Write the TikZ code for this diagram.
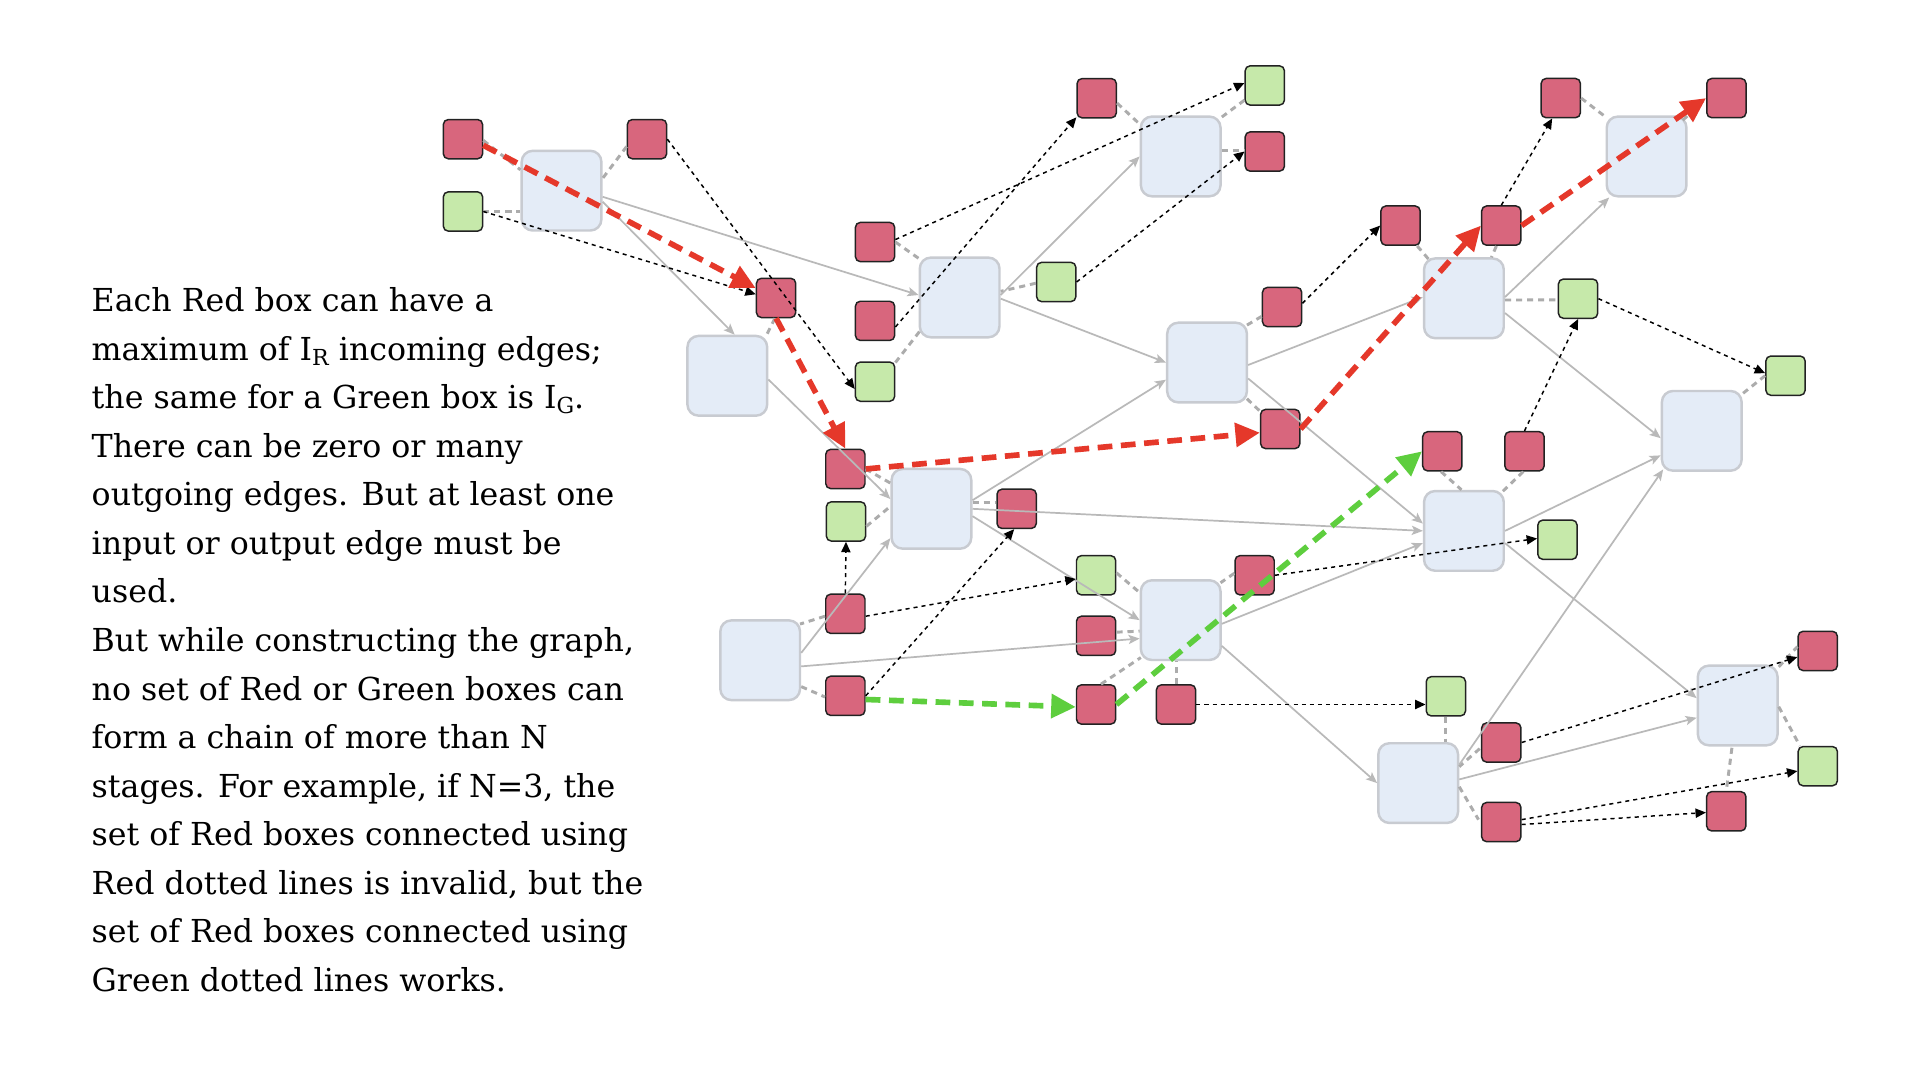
\documentclass[tikz,border=0pt]{standalone}
\usepackage{fontspec}
\setmainfont{DejaVu Serif}
\usetikzlibrary{arrows.meta,calc}
\definecolor{redfill}{RGB}{216,102,125}
\definecolor{greenfill}{RGB}{198,233,170}
\definecolor{bigfill}{RGB}{228,236,247}
\definecolor{bigborder}{RGB}{200,203,209}
\definecolor{boxborder}{RGB}{34,34,34}
\definecolor{arrowgray}{RGB}{185,185,185}
\definecolor{dashgray}{RGB}{172,172,172}
\definecolor{redline}{RGB}{229,56,42}
\definecolor{greenline}{RGB}{94,206,62}
\tikzset{
  big/.style={draw=bigborder, line width=2pt, fill=bigfill, rounded corners=9pt, minimum width=65pt, minimum height=65pt, inner sep=0pt},
  rbox/.style={draw=boxborder, line width=1.2pt, fill=redfill, rounded corners=4pt, minimum width=32pt, minimum height=32pt, inner sep=0pt},
  gbox/.style={rbox, fill=greenfill},
  garrow/.style={draw=arrowgray, line width=1.4pt, -{Stealth[length=9pt,width=7.5pt,inset=2pt]}},
  gdash/.style={draw=dashgray, line width=2.4pt, dash pattern=on 5pt off 4pt},
  bdot/.style={draw=black, line width=1.2pt, dash pattern=on 3.3pt off 3.3pt, -{Triangle[length=8.5pt,width=7.5pt]}},
  rthick/.style={draw=redline, line width=4.6pt, dash pattern=on 12pt off 7pt, -{Triangle[length=20pt,width=19pt]}},
  gthick/.style={draw=greenline, line width=4.6pt, dash pattern=on 12pt off 7pt, -{Triangle[length=20pt,width=19pt]}},
  txt/.style={anchor=base west, inner sep=0pt, font=\fontsize{25.8}{32}\selectfont}
}
\newcommand{\subR}[1]{\raisebox{-4pt}{\fontsize{18}{18}\selectfont #1}}
\begin{document}
\begin{tikzpicture}[x=1pt,y=-1pt]
\useasboundingbox (0,0) rectangle (1566,881);
\fill[white] (0,0) rectangle (1566,881);

% text
\node[txt] (t1) at (74.6,254.2) {Each Red box can have a};
\node[txt] (t2) at (74.6,293.8) {maximum of I\subR{R} incoming edges;};
\node[txt] (t3) at (74.6,333.4) {the same for a Green box is I\subR{G}.};
\node[txt] (t4) at (74.6,373.0) {There can be zero or many};
\node[txt] (t5) at (74.6,412.6) {outgoing edges. But at least one};
\node[txt] (t6) at (74.6,452.2) {input or output edge must be};
\node[txt] (t7) at (74.6,491.8) {used.};
\node[txt] (t8) at (74.6,531.4) {But while constructing the graph,};
\node[txt] (t9) at (74.6,571.0) {no set of Red or Green boxes can};
\node[txt] (t10) at (74.6,610.6) {form a chain of more than N};
\node[txt] (t11) at (74.6,650.2) {stages. For example, if N=3, the};
\node[txt] (t12) at (74.6,689.8) {set of Red boxes connected using};
\node[txt] (t13) at (74.6,729.4) {Red dotted lines is invalid, but the};
\node[txt] (t14) at (74.6,769.0) {set of Red boxes connected using};
\node[txt] (t15) at (74.6,808.6) {Green dotted lines works.};

% big boxes
\node[big] (B1) at (458,155.5) {};
\node[big] (B2) at (593.2,306.5) {};
\node[big] (B3) at (782.7,242.6) {};
\node[big] (B4) at (963,127.6) {};
\node[big] (B5) at (759.7,415) {};
\node[big] (B6) at (620,538.5) {};
\node[big] (B7) at (963,505.8) {};
\node[big] (B8) at (984.5,295.7) {};
\node[big] (B9) at (1194,243.3) {};
\node[big] (B10) at (1343,127.6) {};
\node[big] (B11) at (1194,433) {};
\node[big] (B12) at (1388,351.4) {};
\node[big] (B13) at (1156.7,638.7) {};
\node[big] (B14) at (1417.3,575.4) {};

% small boxes
\node[rbox] (r1) at (377.6,113.5) {};
\node[rbox] (r2) at (527.7,113.5) {};
\node[gbox] (g1) at (377.6,172.5) {};
\node[rbox] (r3) at (633,243) {};
\node[rbox] (r4) at (713.7,197.4) {};
\node[rbox] (r5) at (713.7,261.7) {};
\node[gbox] (g2) at (713.7,311.3) {};
\node[rbox] (r6) at (894.5,80.1) {};
\node[gbox] (g4) at (1031.6,69.7) {};
\node[rbox] (r7) at (1031.6,123.6) {};
\node[gbox] (g3) at (861.5,230) {};
\node[rbox] (r8) at (689.5,382.5) {};
\node[gbox] (g5) at (690,425.3) {};
\node[rbox] (r9) at (829.2,415) {};
\node[rbox] (r10) at (689.5,500.6) {};
\node[rbox] (r11) at (689.5,567.5) {};
\node[gbox] (g6) at (894,469.2) {};
\node[rbox] (r12) at (894,518.6) {};
\node[rbox] (r13) at (894,574.6) {};
\node[rbox] (r14) at (959.2,574.6) {};
\node[rbox] (r15) at (1023.3,469.2) {};
\node[rbox] (r16) at (1045.7,250.4) {};
\node[rbox] (r17) at (1044.2,349.9) {};
\node[rbox] (r18) at (1142.3,184) {};
\node[rbox] (r19) at (1224.5,184) {};
\node[rbox] (r20) at (1273,80) {};
\node[rbox] (r21) at (1408.1,80) {};
\node[gbox] (g7) at (1287.1,243.6) {};
\node[gbox] (g8) at (1456.3,306.4) {};
\node[rbox] (r22) at (1176.4,368.1) {};
\node[rbox] (r23) at (1243.4,368.1) {};
\node[gbox] (g9) at (1270.3,440.2) {};
\node[gbox] (g10) at (1179.3,567.9) {};
\node[rbox] (r24) at (1482.6,530.9) {};
\node[rbox] (r25) at (1224.5,605.6) {};
\node[rbox] (r26) at (1224.5,670.5) {};
\node[rbox] (r27) at (1408,661.7) {};
\node[gbox] (g11) at (1482.6,624.9) {};

% gray dashed attachments
\draw[gdash] ($(r1.east)+(0,1)$) -- ($(B1.west)+(0,-17)$);
\draw[gdash] (g1.east) -- ($(B1.west)+(0,17)$);
\draw[gdash] ($(r2.west)+(0,6)$) -- ($(B1.east)+(0,-10)$);
\draw[gdash] ($(r3.south)+(-1,0)$) -- ($(B2.north east)+(-2.6,2.6)$);
\draw[gdash] (r4.east) -- ($(B3.north west)+(2,3)$);
\draw[gdash] ($(g2.north east)+(0,1)$) -- ($(B3.south west)+(1,-6)$);
\draw[gdash] ($(g3.west)+(0,1)$) -- ($(B3.east)+(0,-5)$);
\draw[gdash] ($(r6.east)+(0,4)$) -- ($(B4.north west)+(1,8)$);
\draw[gdash] ($(g4.west)+(0,12)$) -- ($(B4.north east)+(-1.5,2.5)$);
\draw[gdash] ($(B4.east)+(0,-5)$) -- ($(r7.west)+(0,-1)$);
\draw[gdash] (r8.east) -- ($(B5.west)+(0,-21)$);
\draw[gdash] ($(g5.east)+(0,4)$) -- ($(B5.west)+(0,-2)$);
\draw[gdash] ($(B5.east)+(0,-5)$) -- ($(r9.west)+(0,-5)$);
\draw[gdash] ($(r10.west)+(0,2)$) -- ($(B6.north east)+(-1,4)$);
\draw[gdash] ($(B6.east)+(0,21.5)$) -- ($(r11.west)+(0,1)$);
\draw[gdash] ($(g6.east)+(0,-2)$) -- ($(B7.north west)+(0,11)$);
\draw[gdash] ($(r12.east)+(0,-3)$) -- ($(B7.west)+(0,9)$);
\draw[gdash] ($(r13.north)+(4,0)$) -- ($(B7.south west)+(1,-3)$);
\draw[gdash] (r14.north) -- (r14.north |- B7.south);
\draw[gdash] ($(r15.west)+(0,-1.6)$) -- ($(B7.north east)+(-1,3)$);
\draw[gdash] ($(r16.south west)+(0,-9)$) -- ($(B8.north east)+(-1,3)$);
\draw[gdash] ($(B8.south east)+(-1,-4)$) -- ($(r17.north west)+(1,3)$);
\draw[gdash] ($(r18.south east)+(-3,0)$) -- ($(B9.north west)+(5,2)$);
\draw[gdash] ($(r19.south)+(-4,0)$) -- ($(B9.north)+(22.5,0)$);
\draw[gdash] ($(B9.east)+(0,1.4)$) -- ($(g7.west)+(0,1)$);
\draw[gdash] (r20.east) -- ($(B10.north west)+(1,2)$);
\draw[gdash] ($(B10.north east)+(-4,4)$) -- (r21.west);
\draw[gdash] ($(r22.south)+(-1,0)$) -- ($(B11.north)+(-2,0)$);
\draw[gdash] ($(r23.south)+(-1,0)$) -- ($(B11.north east)+(-2,1.4)$);
\draw[gdash] (g8.west) -- ($(B12.north east)+(0,3)$);
\draw[gdash] (g10.south) -- (g10.south |- B13.north);
\draw[gdash] ($(r25.west)+(-1,5)$) -- ($(B13.east)+(0,-13.4)$);
\draw[gdash] ($(B13.east)+(0,3)$) -- ($(r26.west)+(-2,-2)$);
\draw[gdash] ($(B14.north east)+(0,2)$) -- ($(r24.west)+(0,-3.5)$);
\draw[gdash] ($(B14.east)+(0,1)$) -- ($(g11.north west)+(2,0)$);
\draw[gdash] ($(B14.south)+(-4.7,1)$) -- (r27.north);

% gray arrows between big boxes
\draw[garrow] ($(B1.east)+(0,9)$) -- ($(B2.north)+(6,0)$);
\draw[garrow] ($(B1.east)+(0,5)$) -- ($(B3.west)+(0,-2)$);
\draw[garrow] ($(B2.east)+(0,3)$) -- ($(B5.west)+(0,-8)$);
\draw[garrow] ($(B3.east)+(0,-2)$) -- (B4.west);
\draw[garrow] ($(B3.east)+(0,1)$) -- (B8.west);
\draw[garrow] ($(B5.east)+(0,-7)$) -- ($(B8.west)+(0,14)$);
\draw[garrow] (B5.east) -- (B11.west);
\draw[garrow] ($(B5.east)+(0,6)$) -- (B7.west);
\draw[garrow] ($(B6.east)+(0,-6)$) -- ($(B5.west)+(0,24)$);
\draw[garrow] ($(B6.east)+(0,5)$) -- ($(B7.west)+(0,15)$);
\draw[garrow] ($(B7.east)+(0,3)$) -- ($(B11.west)+(0,10)$);
\draw[garrow] ($(B7.east)+(0,21)$) -- (B13.west);
\draw[garrow] ($(B8.east)+(0,2)$) -- ($(B9.west)+(0,-1)$);
\draw[garrow] ($(B8.east)+(0,13)$) -- ($(B11.west)+(0,-6)$);
\draw[garrow] ($(B9.east)+(0,-1)$) -- ($(B10.south west)+(3,0)$);
\draw[garrow] ($(B9.east)+(0,12)$) -- ($(B12.west)+(0,6)$);
\draw[garrow] (B11.east) -- ($(B12.west)+(0,20)$);
\draw[garrow] ($(B11.east)+(0,10)$) -- ($(B14.west)+(0,-6)$);
\draw[garrow] ($(B13.east)+(0,-15)$) -- ($(B12.south west)+(2,-2)$);
\draw[garrow] ($(B13.east)+(0,-3)$) -- ($(B14.west)+(0,10)$);

% black dotted arrows
\draw[bdot] (g1.east) -- ($(r3.west)+(0,-3)$);
\draw[bdot] (r2.east) -- ($(g2.west)+(0,6)$);
\draw[bdot] ($(r4.east)+(0,-2)$) -- ($(g4.west)+(0,-2)$);
\draw[bdot] ($(r5.east)+(0,5)$) -- ($(r6.south west)+(0,-1)$);
\draw[bdot] (g3.east) -- (r7.west);
\draw[bdot] (r10.north) -- (g5.south);
\draw[bdot] ($(r10.east)+(0,2)$) -- ($(g6.west)+(0,3)$);
\draw[bdot] (r11.east) -- ($(r9.south)+(-2,0)$);
\draw[bdot] (r14.east) -- (r14.east -| g10.west);
\draw[bdot] (r15.east) -- ($(g9.west)+(0,-1)$);
\draw[bdot] ($(r16.east)+(0,-3)$) -- (r18.west);
\draw[bdot] (r19.north) -- ($(r20.south)+(-7,0)$);
\draw[bdot] (g7.east) -- ($(g8.west)+(0,-2)$);
\draw[bdot] (r23.north) -- (g7.south);
\draw[bdot] (r25.east) -- ($(r24.west)+(0,5)$);
\draw[bdot] ($(r26.east)+(0,-2)$) -- ($(g11.west)+(0,4)$);
\draw[bdot] ($(r26.east)+(0,2)$) -- ($(r27.west)+(0,1)$);

% red chain (invalid)
\draw[rthick] ($(r1.east)+(0,5)$) -- ($(r3.west)+(0,-8)$);
\draw[rthick] (r3.south) -- (r8.north);
\draw[rthick] (r8.east) -- ($(r17.west)+(0,3)$);
\draw[rthick] (r17.east) -- (r19.west);
\draw[rthick] (r19.east) -- (r21.west);

% green chain (valid)
\draw[gthick] ($(r11.east)+(0,3)$) -- ($(r13.west)+(0,2)$);
\draw[gthick] (r13.east) -- (r22.west);
\end{tikzpicture}
\end{document}
